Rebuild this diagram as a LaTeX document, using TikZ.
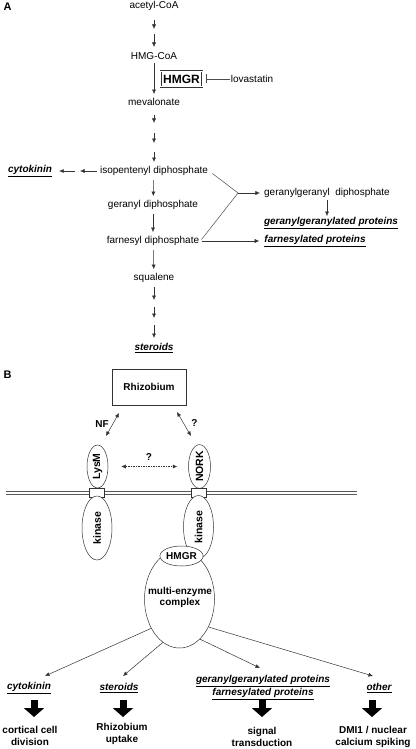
\documentclass[tikz,border=0pt]{standalone}
\usepackage{fontspec}
\setmainfont{Liberation Sans}
\usepackage{graphicx}
\usetikzlibrary{arrows.meta,shapes.geometric,positioning}
\tikzstyle{every node}=[font=\fontsize{10}{12}\selectfont,inner sep=1pt]
\tikzstyle{prod}=[font=\fontsize{10}{11}\selectfont\bfseries\itshape]
\tikzstyle{bold}=[font=\fontsize{10}{12}\selectfont\bfseries]
\tikzstyle{conv}=[draw=black!80,line width=0.5pt,-{Latex[length=4.5pt,width=4pt]}]
\tikzstyle{twoway}=[draw=black!80,line width=0.5pt,{Latex[length=4.5pt,width=4pt]}-{Latex[length=4.5pt,width=4pt]}]
\tikzstyle{blocker}=[draw=black!70,line width=0.5pt,-{Bar[width=9pt,line width=0.8pt]}]
\tikzstyle{fork}=[draw=black!70,line width=0.5pt]
\tikzstyle{fat}=[line width=7pt,-{Triangle[length=9pt,width=20pt]}]
\tikzstyle{lobe}=[ellipse,draw=black!80,line width=0.5pt,fill=white,inner sep=0pt,font=\fontsize{10.5}{12}\selectfont\bfseries]
\tikzstyle{membrane}=[draw=black!65,line width=1.1pt,double=white,double distance=2.3pt]

\begin{document}
\begin{tikzpicture}[x=1pt,y=1pt]
\useasboundingbox (0,0) rectangle (415,-749);

\node[font=\fontsize{11}{11}\selectfont\bfseries] (labA) at (7.5,-7) {A};
\node[font=\fontsize{11}{11}\selectfont\bfseries] (labB) at (7.5,-375) {B};

\node (acoa) at (154,-6) {acetyl-CoA};
\node (hcoa) at (154,-56) {HMG-CoA};
\node (meva) at (154,-102) {mevalonate};
\node (ipp) at (154,-171) {isopentenyl diphosphate};
\node (gpp) at (153,-205) {geranyl diphosphate};
\node (fpp) at (153,-241) {farnesyl diphosphate};
\node (squa) at (154,-278) {squalene};
\node[prod] (ster) at (154,-348) {\underline{steroids}};
\node[prod] (cyto) at (30,-171) {\underline{cytokinin}};
\node (ggpp) at (327,-193) {geranylgeranyl\ \ diphosphate};
\node[prod] (ggprot) at (331,-223) {\underline{geranylgeranylated proteins}};
\node[prod] (fprot) at (315,-241) {\underline{farnesylated proteins}};
\node[draw=black!80,double,double distance=0.7pt,line width=0.6pt,inner xsep=2.5pt,inner ysep=3.5pt,font=\fontsize{12}{12}\selectfont\bfseries] (hmgr) at (181.5,-79) {HMGR};
\node (lova) at (252,-79) {lovastatin};

\foreach \ya/\yb [count=\i] in {20/29,34/47,115/123,133/143,152/162,287/300,307/318,325/338} {
  \coordinate (up\i) at (154,-\ya);
  \coordinate (dn\i) at (154,-\yb);
  \draw[conv] (up\i) -- (dn\i);
}
\draw[conv,shorten <=2pt,shorten >=3pt] (hcoa) -- (meva);
\draw[conv,shorten <=3pt,shorten >=3pt] (ipp) -- (gpp);
\draw[conv,shorten <=3pt,shorten >=3pt] (gpp) -- (fpp);
\draw[conv,shorten <=3pt,shorten >=3pt] (fpp) -- (squa);
\draw[blocker,shorten >=3pt] (lova.west) -- (hmgr.east);

\coordinate (lc1) at (80,-171);
\coordinate (lc2) at (75,-171);
\draw[conv,shorten <=2pt] (ipp.west) -- (lc1);
\draw[conv,shorten >=6pt] (lc2) -- (cyto.east);

\coordinate (fork) at (238,-193);
\draw[fork,shorten <=4pt] (ipp.east) -- (fork);
\draw[fork,shorten <=2pt] (fpp.east) -- (fork);
\draw[conv,shorten >=3pt] (fork) -- (ggpp.west);
\draw[conv,shorten <=1pt] (ggpp.south) -- (ggpp.south |- ggprot.north);
\draw[conv,shorten <=2pt,shorten >=4pt] (fpp.east) -- (fprot.west);

\node[draw=black!80,line width=0.5pt,minimum width=74pt,minimum height=36pt,bold] (rhiz) at (149,-387) {Rhizobium};
\coordinate (nf1) at (119,-413);
\coordinate (nf2) at (106,-436);
\coordinate (qa1) at (177,-412);
\coordinate (qa2) at (191,-436);
\draw[twoway] (nf1) -- (nf2);
\draw[twoway] (qa1) -- (qa2);
\node[bold] (nf) at (102,-424) {NF};
\node[bold] (q1) at (194.5,-423) {?};

\node[lobe,minimum width=21pt,minimum height=43pt] (lysm) at (97.5,-466.5) {\rotatebox{90}{LysM}};
\node[lobe,minimum width=22pt,minimum height=43pt] (nork) at (199.5,-466.5) {\rotatebox{90}{NORK}};
\draw[twoway,dash pattern=on 1.5pt off 1pt,shorten <=13pt,shorten >=11pt] (lysm.east) -- (nork.west);
\node[bold] (q2) at (149,-457) {?};

\coordinate (memL) at (6,-492.75);
\coordinate (memR) at (357,-492.75);
\draw[membrane] (memL) -- (memR);
\node[draw=black!80,line width=0.5pt,fill=white,minimum width=15pt,minimum height=9pt,inner sep=0pt] (tm1) at (96.5,-492.5) {};
\node[draw=black!80,line width=0.5pt,fill=white,minimum width=15pt,minimum height=9pt,inner sep=0pt] (tm2) at (199,-492.5) {};

\node[lobe,minimum width=30pt,minimum height=64pt] (kin1) at (97,-528) {\rotatebox{90}{kinase}};
\node[lobe,minimum width=30pt,minimum height=63pt] (kin2) at (198.5,-527) {\rotatebox{90}{kinase}};
\node[lobe,minimum width=70pt,minimum height=98pt] (mec) at (179.5,-599) {};
\node[lobe,minimum width=41pt,minimum height=20pt,font=\fontsize{10}{12}\selectfont\bfseries] (hmgr2) at (181.5,-556) {HMGR};
\node[bold,align=center,font=\fontsize{10}{11}\selectfont\bfseries] (mectext) at (180,-597) {multi-enzyme\\complex};

\coordinate (e1) at (45,-676);
\coordinate (e2) at (123,-676);
\coordinate (e3) at (260,-668);
\coordinate (e4) at (373,-676);
\draw[conv] (mec.226) -- (e1);
\draw[conv] (mec.249) -- (e2);
\draw[conv] (mec.297) -- (e3);
\draw[conv] (mec.316) -- (e4);

\node[prod] (cyto2) at (29,-688) {\underline{cytokinin}};
\node[prod] (ster2) at (119,-688) {\underline{steroids}};
\node[prod,align=center] (prot2) at (263,-687.5) {\underline{geranylgeranylated proteins}\\\underline{farnesylated proteins}};
\node[prod] (other) at (379,-688) {\underline{other}};

\foreach \x/\n in {34/a,123/b,262/c,372/d} {
  \coordinate (fat\n1) at (\x,-700);
  \coordinate (fat\n2) at (\x,-717);
  \draw[fat] (fat\n1) -- (fat\n2);
}

\node[bold,align=center] (cortical) at (30,-736) {cortical cell\\division};
\node[bold,align=center] (uptake) at (122,-734) {Rhizobium\\uptake};
\node[bold,align=center] (signal) at (262,-737) {signal\\transduction};
\node[bold,align=center] (spiking) at (373,-737) {DMI1 / nuclear\\calcium spiking};
\end{tikzpicture}
\end{document}
